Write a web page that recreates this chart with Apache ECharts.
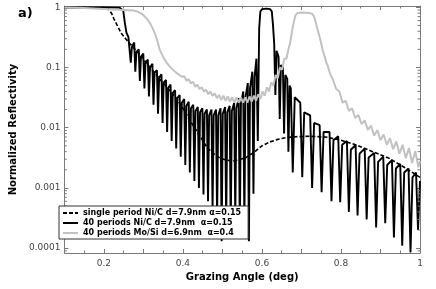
<!DOCTYPE html>
<html><head><meta charset="utf-8">
<script src="https://cdn.jsdelivr.net/npm/echarts@6.0.0/dist/echarts.min.js"></script>
<style>html,body{margin:0;padding:0;background:#fff}#c{width:436px;height:289px}</style>
</head><body><div id="c"></div>
<script>
// ---- data ----
const xTickValues = [0.2, 0.4, 0.6, 0.8, 1.0];
const xTickLabels = ['0.2', '0.4', '0.6', '0.8', '1'];
const yTickValues = [0.0001, 0.001, 0.01, 0.1, 1];
const yTickLabels = ['0.0001', '0.001', '0.01', '0.1', '1'];
const yMinorTicks = [0.00009,
  0.0002,0.0003,0.0004,0.0005,0.0006,0.0007,0.0008,0.0009,
  0.002,0.003,0.004,0.005,0.006,0.007,0.008,0.009,
  0.02,0.03,0.04,0.05,0.06,0.07,0.08,0.09,
  0.2,0.3,0.4,0.5,0.6,0.7,0.8,0.9];

const seriesNames = ['single period Ni/C d=7.9nm α=0.15', '40 periods Ni/C d=7.9nm  α=0.15', '40 periods Mo/Si d=6.9nm  α=0.4'];

const singlePeriodNiC = [[0.1,0.99],[0.15,0.99],[0.2,0.985],[0.21,0.975],[0.215,0.92],[0.22,0.78],[0.225,0.65],[0.235,0.48],[0.244,0.37],[0.255,0.3],
  [0.268,0.24],[0.28,0.195],[0.293,0.16],[0.305,0.125],[0.317,0.1],[0.33,0.08],[0.345,0.06],[0.366,0.042],[0.383,0.031],[0.4,0.021],
  [0.42,0.0125],[0.44,0.0078],[0.463,0.0045],[0.48,0.0036],[0.495,0.0031],[0.51,0.0029],[0.525,0.0028],[0.54,0.0029],[0.56,0.0032],[0.58,0.0039],
  [0.6,0.005],[0.62,0.0058],[0.64,0.0064],[0.663,0.0069],[0.69,0.0071],[0.72,0.0072],[0.761,0.007],[0.8,0.0062],[0.841,0.0051],[0.88,0.004],
  [0.922,0.0031],[0.96,0.0022],[1.0,0.0015]];

const multiNiC = [[0.1,0.99],[0.15,0.99],[0.2,0.99],[0.24,0.985],[0.245,0.97],[0.249,0.88],[0.253,0.55],[0.257,0.38],[0.262,0.32],
  [0.2652,0.30],[0.268,0.12],[0.2708,0.22],
  [0.2767,0.26],[0.2795,0.085],[0.2823,0.18],
  [0.2882,0.20],[0.291,0.06],[0.2938,0.15],
  [0.2997,0.17],[0.3025,0.045],[0.3053,0.12],
  [0.3112,0.135],[0.314,0.033],[0.3168,0.10],
  [0.3227,0.115],[0.3255,0.024],[0.3283,0.082],
  [0.3342,0.09],[0.337,0.017],[0.3398,0.068],
  [0.3457,0.077],[0.3485,0.012],[0.3513,0.056],
  [0.3572,0.062],[0.360,0.0085],[0.3628,0.046],
  [0.3687,0.052],[0.3715,0.006],[0.3743,0.038],
  [0.3802,0.042],[0.383,0.0045],[0.3858,0.031],
  [0.3917,0.035],[0.3945,0.0033],[0.3973,0.026],
  [0.4032,0.030],[0.406,0.0024],[0.4088,0.023],
  [0.4147,0.027],[0.4175,0.0018],[0.4203,0.021],
  [0.4262,0.024],[0.429,0.0013],[0.4318,0.019],
  [0.4377,0.022],[0.4405,0.001],[0.4433,0.018],
  [0.4492,0.021],[0.452,0.00078],[0.4548,0.017],
  [0.4607,0.020],[0.4635,0.0006],[0.4663,0.016],
  [0.4722,0.020],[0.475,0.00045],[0.4778,0.016],
  [0.4837,0.020],[0.4865,0.0003],[0.4893,0.016],
  [0.4952,0.021],[0.498,0.00013],[0.5008,0.017],
  [0.5067,0.022],[0.5095,0.00025],[0.5123,0.018],
  [0.5182,0.023],[0.521,0.0002],[0.5238,0.019],
  [0.5297,0.026],[0.5325,0.0003],[0.5353,0.021],
  [0.5412,0.031],[0.544,0.00018],[0.5468,0.025],
  [0.5527,0.04],[0.5555,0.00025],[0.5583,0.032],
  [0.5642,0.055],[0.567,0.00013],[0.5698,0.045],
  [0.5757,0.085],[0.5785,0.0008],[0.5813,0.07],
  [0.586,0.14],[0.5895,0.006],[0.593,0.45],[0.596,0.85],[0.600,0.93],[0.611,0.95],[0.621,0.93],[0.625,0.85],
  [0.628,0.5],[0.631,0.25],[0.634,0.035],[0.637,0.19],
  [0.642,0.15],[0.645,0.014],[0.648,0.11],
  [0.653,0.1],[0.656,0.008],[0.659,0.075],
  [0.664,0.065],[0.667,0.004],[0.670,0.05],
  [0.673,0.045],[0.678,0.0018],[0.683,0.032],
  [0.697,0.026],[0.702,0.0015],[0.707,0.018],
  [0.722,0.016],[0.727,0.001],[0.732,0.012],
  [0.746,0.011],[0.751,0.00085],[0.756,0.0085],
  [0.771,0.0085],[0.776,0.0006],[0.781,0.0062],
  [0.793,0.0072],[0.798,0.00058],[0.803,0.0052],
  [0.815,0.006],[0.820,0.0004],[0.825,0.0043],
  [0.837,0.0052],[0.842,0.00035],[0.847,0.0037],
  [0.860,0.0045],[0.865,0.0003],[0.870,0.0032],
  [0.884,0.0038],[0.889,0.00022],[0.894,0.0027],
  [0.907,0.0033],[0.912,0.00026],[0.917,0.0024],
  [0.929,0.0029],[0.934,0.00015],[0.939,0.0021],
  [0.950,0.0025],[0.955,0.00011],[0.960,0.0018],
  [0.971,0.0021],[0.976,0.000085],[0.981,0.0015],
  [0.990,0.0018],[0.995,0.0002],[1.0,0.0013]];

const multiMoSi = [[0.1,0.99],[0.15,0.97],[0.2,0.94],[0.25,0.9],[0.275,0.88],[0.285,0.85],[0.293,0.8],[0.3,0.74],[0.31,0.63],[0.317,0.54],
  [0.323,0.45],[0.329,0.37],[0.335,0.28],[0.341,0.2],[0.35,0.15],[0.358,0.122],[0.366,0.105],[0.374,0.093],[0.382,0.083],[0.39,0.076],[0.398,0.07],
  [0.4035,0.072],[0.409,0.060],[0.4145,0.064],[0.420,0.054],[0.4255,0.058],[0.431,0.048],[0.4365,0.052],[0.442,0.044],[0.4475,0.047],[0.453,0.040],
  [0.4585,0.043],[0.464,0.036],[0.4695,0.040],[0.475,0.034],[0.4805,0.037],[0.486,0.031],[0.4915,0.035],[0.497,0.029],[0.5025,0.034],[0.508,0.028],
  [0.5135,0.033],[0.519,0.027],[0.5245,0.032],[0.530,0.026],[0.5355,0.032],[0.541,0.026],[0.5465,0.032],[0.552,0.026],[0.5575,0.032],[0.563,0.026],
  [0.5685,0.033],[0.574,0.027],[0.5795,0.034],[0.585,0.028],[0.5905,0.036],[0.596,0.03],[0.6015,0.04],[0.607,0.034],[0.6125,0.047],[0.618,0.04],
  [0.6235,0.057],[0.629,0.05],[0.6345,0.075],[0.640,0.066],[0.6455,0.1],[0.651,0.092],[0.6565,0.14],[0.662,0.14],[0.667,0.2],[0.671,0.25],
  [0.675,0.36],[0.678,0.47],[0.682,0.62],[0.685,0.74],[0.69,0.8],[0.695,0.82],[0.70,0.82],[0.71,0.81],[0.72,0.8],[0.727,0.78],
  [0.731,0.72],[0.734,0.64],[0.738,0.5],[0.742,0.4],[0.746,0.32],[0.75,0.25],[0.754,0.19],[0.759,0.15],[0.763,0.12],[0.767,0.105],
  [0.772,0.08],[0.776,0.07],[0.780,0.062],[0.788,0.044],[0.796,0.040],[0.804,0.026],[0.812,0.028],[0.820,0.019],[0.828,0.021],[0.836,0.0145],
  [0.844,0.0163],[0.852,0.0115],[0.860,0.0132],[0.868,0.0092],[0.876,0.0108],[0.884,0.0074],[0.892,0.0091],[0.900,0.0062],[0.908,0.0077],[0.916,0.0052],
  [0.924,0.0067],[0.932,0.0044],[0.940,0.0059],[0.948,0.0037],[0.956,0.0052],[0.964,0.0031],[0.972,0.0046],[0.980,0.0026],[0.988,0.0041],[0.996,0.0022],
  [1.0,0.0028]];

// ---- chart ----
const xMin = 0.1, xMax = 1.0, yMin = 0.000083, yMax = 1.05;
const FONT = 'DejaVu Sans';
const AX = '#7a7a7a';

function xLabel(v) {
  for (let i = 0; i < xTickValues.length; i++) if (Math.abs(v - xTickValues[i]) < 1e-6) return xTickLabels[i];
  return '';
}
function yLabel(v) {
  for (let i = 0; i < yTickValues.length; i++) if (Math.abs(Math.log10(v) - Math.log10(yTickValues[i])) < 1e-6) return yTickLabels[i];
  return '';
}

const axisCommonX = {
  type: 'value', min: xMin, max: xMax, interval: 0.1,
  axisLine: { show: true, onZero: false, lineStyle: { color: AX, width: 1 } },
  axisTick: { show: true, inside: true, length: 4, lineStyle: { color: AX } },
  minorTick: { show: true, splitNumber: 2, length: 2.5, lineStyle: { color: AX } },
  splitLine: { show: false }, minorSplitLine: { show: false }
};
const axisCommonY = {
  type: 'log', logBase: 10, min: yMin, max: yMax,
  axisLine: { show: true, onZero: false, lineStyle: { color: AX, width: 1 } },
  axisTick: { show: true, inside: true, length: 4, lineStyle: { color: AX } },
  splitLine: { show: false }
};

const chart = echarts.init(document.getElementById('c'), null, { renderer: 'canvas' });
chart.setOption({
  animation: false,
  backgroundColor: '#fff',
  textStyle: { fontFamily: FONT },
  title: { text: 'a)', left: 13, top: 2, textStyle: { fontSize: 13, fontWeight: 'bold', color: '#000', fontFamily: FONT } },
  grid: { left: 51, right: 16, top: 6, bottom: 36 },
  legend: {
    orient: 'vertical', left: 59, top: 206, data: seriesNames, selectedMode: false, z: 20,
    backgroundColor: '#fff', borderColor: '#333', borderWidth: 1, borderRadius: 0,
    padding: [3, 7, 2, 3], itemGap: 2, itemWidth: 15, itemHeight: 8,
    itemStyle: { opacity: 0, borderWidth: 0 },
    textStyle: { fontSize: 8, fontWeight: 'bold', color: '#000', fontFamily: FONT }
  },
  xAxis: [
    Object.assign({}, axisCommonX, {
      position: 'bottom', name: 'Grazing Angle (deg)', nameLocation: 'middle', nameGap: 18,
      nameTextStyle: { fontSize: 10, fontWeight: 'bold', color: '#000', fontFamily: FONT },
      axisLabel: { margin: 6, fontSize: 9, color: '#444', fontFamily: FONT, formatter: xLabel, showMinLabel: true, showMaxLabel: true }
    }),
    Object.assign({}, axisCommonX, { position: 'top', axisLabel: { show: false } })
  ],
  yAxis: [
    Object.assign({}, axisCommonY, {
      position: 'left', name: 'Normalized Reflectivity', nameLocation: 'middle', nameGap: 38, nameRotate: 90,
      nameTextStyle: { fontSize: 10, fontWeight: 'bold', color: '#000', fontFamily: FONT },
      axisLabel: { margin: 4, fontSize: 9, color: '#444', fontFamily: FONT, formatter: yLabel }
    }),
    Object.assign({}, axisCommonY, { position: 'right', axisLabel: { show: false } })
  ],
  series: [
    { name: seriesNames[0], type: 'line', data: singlePeriodNiC, showSymbol: false, symbol: 'none', z: 2,
      lineStyle: { color: '#000', width: 1.6, type: [4, 2] }, itemStyle: { color: '#000' } },
    { name: seriesNames[1], type: 'line', data: multiNiC, showSymbol: false, symbol: 'none', z: 2,
      lineStyle: { color: '#000', width: 1.9 }, itemStyle: { color: '#000' } },
    { name: seriesNames[2], type: 'line', data: multiMoSi, showSymbol: false, symbol: 'none', z: 2,
      lineStyle: { color: '#c2c2c2', width: 2 }, itemStyle: { color: '#c2c2c2' } },
    { name: 'yMinor', type: 'custom', silent: true, z: 3, clip: false,
      data: yMinorTicks.map(v => [xMin, v]), encode: { x: 0, y: 1 },
      renderItem: function (params, api) {
        const v = api.value(1);
        const pl = api.coord([xMin, v]);
        const pr = api.coord([xMax, v]);
        return { type: 'group', children: [
          { type: 'line', shape: { x1: pl[0], y1: pl[1], x2: pl[0] + 2.5, y2: pl[1] }, style: { stroke: AX, lineWidth: 1 } },
          { type: 'line', shape: { x1: pr[0] - 2.5, y1: pr[1], x2: pr[0], y2: pr[1] }, style: { stroke: AX, lineWidth: 1 } }
        ] };
      }
    }
  ]
});
</script></body></html>
